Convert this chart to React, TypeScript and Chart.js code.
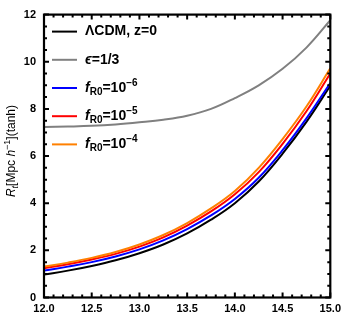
import React, { useEffect, useRef } from "react";
import { Chart, registerables } from "chart.js";

Chart.register(...registerables);

const massLog = [12.0, 12.25, 12.5, 12.75, 13.0, 13.25, 13.5, 13.75, 14.0, 14.25, 14.5, 14.75, 15.0];
const lcdm = [0.97, 1.14, 1.34, 1.58, 1.88, 2.25, 2.72, 3.3, 4.0, 4.92, 6.1, 7.45, 8.98];
const eps13 = [7.23, 7.25, 7.28, 7.34, 7.43, 7.54, 7.71, 8.0, 8.46, 9.0, 9.7, 10.6, 11.76];
const fr6 = [1.14, 1.31, 1.5, 1.74, 2.04, 2.42, 2.9, 3.48, 4.18, 5.08, 6.25, 7.6, 9.1];
const fr5 = [1.24, 1.41, 1.61, 1.85, 2.16, 2.55, 3.05, 3.65, 4.38, 5.32, 6.52, 7.9, 9.5];
const fr4 = [1.31, 1.48, 1.68, 1.93, 2.25, 2.65, 3.16, 3.78, 4.52, 5.5, 6.72, 8.1, 9.72];

const xTicks = [12.0, 12.5, 13.0, 13.5, 14.0, 14.5, 15.0];
const yTicks = [0, 2, 4, 6, 8, 10, 12];

type Seg = { t: string; italic?: boolean; sub?: boolean; sup?: boolean };

const legendLabels: Seg[][] = [
  [{ t: "ΛCDM, z=0" }],
  [{ t: "ϵ", italic: true }, { t: "=1/3" }],
  [{ t: "f", italic: true }, { t: "R0", sub: true }, { t: "=10" }, { t: "−6", sup: true }],
  [{ t: "f", italic: true }, { t: "R0", sub: true }, { t: "=10" }, { t: "−5", sup: true }],
  [{ t: "f", italic: true }, { t: "R0", sub: true }, { t: "=10" }, { t: "−4", sup: true }],
];

const yTitle: Seg[] = [
  { t: "R", italic: true },
  { t: "t", italic: true, sub: true },
  { t: "[Mpc " },
  { t: "h", italic: true },
  { t: "−1", sup: true },
  { t: "](tanh)" },
];

const colors = ["#000000", "#808080", "#0000ff", "#ff0000", "#ff8000"];
const seriesList = [lcdm, eps13, fr6, fr5, fr4];
const FAMILY = '"Liberation Sans", Arial, sans-serif';

function segFont(s: Seg, size: number, weight: string) {
  const sz = s.sub || s.sup ? Math.round(size * 0.72) : size;
  return `${s.italic ? "italic " : ""}${weight} ${sz}px ${FAMILY}`;
}

function measureSegs(ctx: CanvasRenderingContext2D, segs: Seg[], size: number, weight: string) {
  let w = 0;
  for (const s of segs) {
    ctx.font = segFont(s, size, weight);
    w += ctx.measureText(s.t).width;
  }
  return w;
}

function drawSegs(ctx: CanvasRenderingContext2D, segs: Seg[], x: number, y: number, size: number, weight: string) {
  let cx = x;
  ctx.textBaseline = "middle";
  ctx.textAlign = "left";
  for (const s of segs) {
    ctx.font = segFont(s, size, weight);
    const dy = s.sub ? size * 0.3 : s.sup ? -size * 0.35 : 0;
    ctx.fillText(s.t, cx, y + dy);
    cx += ctx.measureText(s.t).width;
  }
}

const framePlugin = {
  id: "frameTicks",
  afterDatasetsDraw(chart: any) {
    const { ctx, chartArea } = chart;
    const xs = chart.scales.x;
    const ys = chart.scales.y;
    const { left, right, top, bottom } = chartArea;
    ctx.save();
    ctx.strokeStyle = "#000";
    ctx.lineWidth = 2;
    const major = 5;
    const minor = 3;
    for (let i = 0; i <= 30; i++) {
      const v = 12 + i * 0.1;
      const px = xs.getPixelForValue(v);
      const len = i % 5 === 0 ? major : minor;
      ctx.beginPath();
      ctx.moveTo(px, bottom);
      ctx.lineTo(px, bottom - len);
      ctx.moveTo(px, top);
      ctx.lineTo(px, top + len);
      ctx.stroke();
    }
    for (let i = 0; i <= 24; i++) {
      const v = i * 0.5;
      const py = ys.getPixelForValue(v);
      const len = i % 4 === 0 ? major : minor;
      ctx.beginPath();
      ctx.moveTo(left, py);
      ctx.lineTo(left + len, py);
      ctx.moveTo(right, py);
      ctx.lineTo(right - len, py);
      ctx.stroke();
    }
    ctx.lineWidth = 2.2;
    ctx.strokeRect(left, top, right - left, bottom - top);

    // legend
    const lx0 = left + 8;
    const lx1 = left + 33;
    const tx = left + 41;
    const y0 = top + 17;
    const dy = 28.2;
    legendLabels.forEach((segs, i) => {
      const y = y0 + i * dy;
      ctx.strokeStyle = colors[i];
      ctx.lineWidth = 2;
      ctx.beginPath();
      ctx.moveTo(lx0, y);
      ctx.lineTo(lx1, y);
      ctx.stroke();
      ctx.fillStyle = "#000";
      drawSegs(ctx, segs, tx, y, 14, "bold");
    });

    // y title
    const size = 12;
    const w = measureSegs(ctx, yTitle, size, "normal");
    const cy = (top + bottom) / 2 - 5;
    ctx.translate(12, cy);
    ctx.rotate(-Math.PI / 2);
    ctx.fillStyle = "#000";
    drawSegs(ctx, yTitle, -w / 2, 0, size, "normal");
    ctx.restore();
  },
};

export default function App() {
  const ref = useRef<HTMLCanvasElement>(null);
  useEffect(() => {
    if (!ref.current) return;
    const chart = new Chart(ref.current, {
      type: "line",
      data: {
        datasets: seriesList.map((s, i) => ({
          label: "s" + i,
          data: s.map((y, j) => ({ x: massLog[j], y })),
          borderColor: colors[i],
          backgroundColor: colors[i],
          borderWidth: 2,
          pointRadius: 0,
          tension: 0.4,
          fill: false,
          order: 5 - i,
        })),
      },
      options: {
        responsive: false,
        animation: false,
        layout: { padding: { left: 0, right: 13, top: 8, bottom: 0 } },
        plugins: { legend: { display: false }, tooltip: { enabled: false } },
        scales: {
          x: {
            type: "linear",
            min: 12,
            max: 15,
            afterBuildTicks: (sc: any) => {
              sc.ticks = xTicks.map((v) => ({ value: v }));
            },
            ticks: {
              color: "#000",
              font: { family: FAMILY, size: 11, weight: "bold" },
              padding: 5,
              maxRotation: 0,
              autoSkip: false,
              callback: (v: any) => Number(v).toFixed(1),
            },
            grid: { display: false, drawTicks: false },
            border: { display: false },
            afterFit: (sc: any) => {
              sc.height = 22.5;
            },
          },
          y: {
            type: "linear",
            min: 0,
            max: 12,
            afterBuildTicks: (sc: any) => {
              sc.ticks = yTicks.map((v) => ({ value: v }));
            },
            ticks: {
              color: "#000",
              font: { family: FAMILY, size: 11, weight: "bold" },
              padding: 8,
              autoSkip: false,
              callback: (v: any) => String(v),
            },
            grid: { display: false, drawTicks: false },
            border: { display: false },
            afterFit: (sc: any) => {
              sc.width = 44;
            },
          },
        },
      },
      plugins: [framePlugin],
    });
    return () => chart.destroy();
  }, []);
  return (
    <div style={{ position: "fixed", left: 0, top: 0, width: 346, height: 320, background: "#fff" }}>
      <canvas ref={ref} width={346} height={320} />
    </div>
  );
}
